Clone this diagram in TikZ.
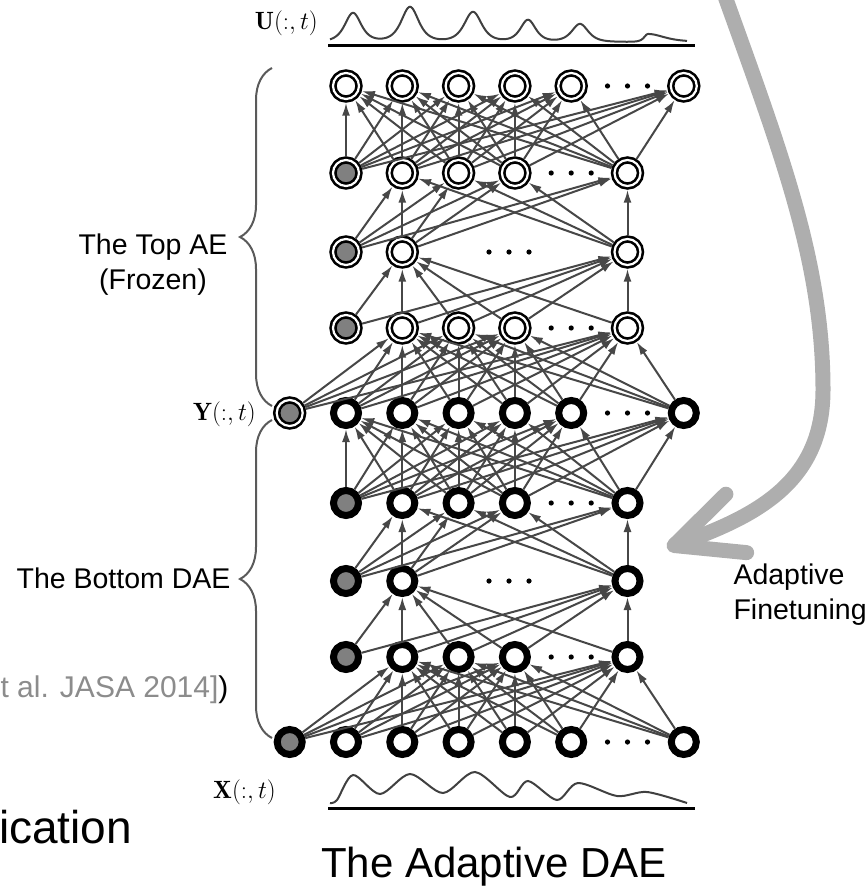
\RequirePackage{fix-cm}
\documentclass[tikz,border=0pt]{standalone}
\usepackage{fontspec}
\newfontfamily\labelfont{Liberation Sans}
\usepackage{xcolor}
\usetikzlibrary{arrows.meta, decorations.pathreplacing}

\definecolor{linkgray}{HTML}{474747}
\definecolor{biasgray}{HTML}{808080}
\definecolor{bracegray}{HTML}{5A5A5A}
\definecolor{adaptgray}{HTML}{AEAEAE}
\definecolor{citegray}{HTML}{8C8C8C}
\definecolor{wavegray}{HTML}{404040}

% x position of a unit column
\newcommand{\colx}[1]{346+56.3*#1}
% the three dots of a row
\newcommand{\rowdots}[2]{\foreach \off in {-20,0,20} {\fill (#1+\off,#2) circle (2.6pt);}}

\begin{document}
\begin{tikzpicture}[
    x=1pt, y=-1pt,
    declare function={pk(\t,\c,\w)=1/(1+((\t-\c)/\w)^2)/(1+((\t-\c)/\w)^2);},
    dae/.style={circle, draw=black, line width=7pt, minimum size=25pt, inner sep=0pt, outer sep=3.5pt, fill=white},
    ae/.style={circle, draw=black, line width=2.6pt, double=white, double distance=2.2pt, minimum size=26pt, inner sep=0pt, outer sep=3.7pt, fill=white},
    bias/.style={fill=biasgray},
    link/.style={draw=linkgray, line width=2pt, -{Latex[length=13pt,width=8pt]}},
    lbl/.style={font=\labelfont\fontsize{28.5}{35}\selectfont},
    big/.style={font=\labelfont\fontsize{46}{50}\selectfont},
    sig/.style={font=\fontsize{25}{27}\selectfont, inner sep=0pt},
    wave/.style={draw=wavegray, line width=2pt},
    hbrace/.style={draw=bracegray, line width=2pt, decorate, decoration={brace, amplitude=32pt}}
]
    \useasboundingbox (0,0) rectangle (867,888);

    % bottom DAE
    \node[dae, bias] (r0-b) at (\colx{-1},742) {};
    \foreach \k in {0,1,2,3,4,6} \node[dae] (r0-\k) at (\colx{\k},742) {};
    \rowdots{\colx{5}}{742}

    \node[dae, bias] (r1-b) at (\colx{0},657) {};
    \foreach \k in {1,2,3,5} \node[dae] (r1-\k) at (\colx{\k},657) {};
    \rowdots{\colx{4}}{657}

    \node[dae, bias] (r2-b) at (\colx{0},581) {};
    \foreach \k in {1,5} \node[dae] (r2-\k) at (\colx{\k},581) {};
    \rowdots{509}{581}

    \node[dae, bias] (r3-b) at (\colx{0},503) {};
    \foreach \k in {1,2,3,5} \node[dae] (r3-\k) at (\colx{\k},503) {};
    \rowdots{\colx{4}}{503}

    \node[ae, bias] (r4-b) at (\colx{-1},413) {};
    \foreach \k in {0,1,2,3,4,6} \node[dae] (r4-\k) at (\colx{\k},413) {};
    \rowdots{\colx{5}}{413}

    % top AE
    \node[ae, bias] (r5-b) at (\colx{0},328) {};
    \foreach \k in {1,2,3,5} \node[ae] (r5-\k) at (\colx{\k},328) {};
    \rowdots{\colx{4}}{328}

    \node[ae, bias] (r6-b) at (\colx{0},252) {};
    \foreach \k in {1,5} \node[ae] (r6-\k) at (\colx{\k},252) {};
    \rowdots{509}{252}

    \node[ae, bias] (r7-b) at (\colx{0},173) {};
    \foreach \k in {1,2,3,5} \node[ae] (r7-\k) at (\colx{\k},173) {};
    \rowdots{\colx{4}}{173}

    \foreach \k in {0,1,2,3,4,6} \node[ae] (r8-\k) at (\colx{\k},86) {};
    \rowdots{\colx{5}}{86}

    % connections
    \foreach \i in {b,0,1,2,3,4,6} \foreach \j in {1,2,3,5} \draw[link] (r0-\i) -- (r1-\j);
    \foreach \i in {b,1,2,3,5} \foreach \j in {1,5} \draw[link] (r1-\i) -- (r2-\j);
    \foreach \i in {b,1,5} \foreach \j in {1,2,3,5} \draw[link] (r2-\i) -- (r3-\j);
    \foreach \i in {b,1,2,3,5} \foreach \j in {0,1,2,3,4,6} \draw[link] (r3-\i) -- (r4-\j);
    \foreach \i in {b,0,1,2,3,4,6} \foreach \j in {1,2,3,5} \draw[link] (r4-\i) -- (r5-\j);
    \foreach \i in {b,1,2,3,5} \foreach \j in {1,5} \draw[link] (r5-\i) -- (r6-\j);
    \foreach \i in {b,1,5} \foreach \j in {1,2,3,5} \draw[link] (r6-\i) -- (r7-\j);
    \foreach \i in {b,1,2,3,5} \foreach \j in {0,1,2,3,4,6} \draw[link] (r7-\i) -- (r8-\j);

    % spectra
    \draw[line width=3pt] (328,46) -- (695,46);
    \draw[wave] plot[domain=330:687, samples=300]
        (\x, {42 - 29*pk(\x,353,15) - 35*pk(\x,410,16) - 30*pk(\x,473,16)
              - 22*pk(\x,528,14) - 18*pk(\x,580,15) - 8*pk(\x,648,(\x<648 ? 7 : 30))});
    \draw[line width=3pt] (328,808) -- (695,808);
    \draw[wave] plot[smooth] coordinates {(330,803) (337,800) (353,775) (380,794) (410,774)
        (443,793) (475,772) (510,797) (528,781) (557,800) (578,783) (617,796) (647,792) (687,803)};

    \node[sig, anchor=base east] (ulbl) at (318,30) {$\mathbf{U}(:,t)$};
    \node[sig, anchor=base east] (ylbl) at (256,420) {$\mathbf{Y}(:,t)$};
    \node[sig, anchor=base east] (xlbl) at (276,798) {$\mathbf{X}(:,t)$};

    % braces
    \draw[hbrace] (272,406) -- (272,68);
    \draw[hbrace] (272,738) -- (272,420);
    \node[lbl, align=center, anchor=base] (toplbl) at (153,289) {The Top AE\\(Frozen)};
    \node[lbl, anchor=base east] (botlbl) at (234,588) {The Bottom DAE};

    % adaptation arrow
    \coordinate (adaptstart) at (722,-12);
    \coordinate (adapttip) at (667,548);
    \draw[adaptgray, line width=15pt, line cap=round,
          -{Straight Barb[length=66pt, width=62pt, round]}]
        (adaptstart) .. controls (780,150) and (823,260) .. (823,390)
        .. controls (823,480) and (760,515) .. (adapttip);
    \node[lbl, align=left, anchor=base west] (adaptlbl) at (730,619) {Adaptive\\Finetuning};

    \node[lbl, anchor=base west, font=\labelfont\fontsize{30}{34}\selectfont] (cite) at (-3,697)
        {\textcolor{citegray}{t al. JASA 2014]})};
    \node[big, anchor=base west, inner sep=0pt] (cut) at (-1,843) {ication};
    \node[big, anchor=base, inner sep=0pt, font=\labelfont\fontsize{42}{46}\selectfont] (title) at (494,877) {The Adaptive DAE};
\end{tikzpicture}
\end{document}
